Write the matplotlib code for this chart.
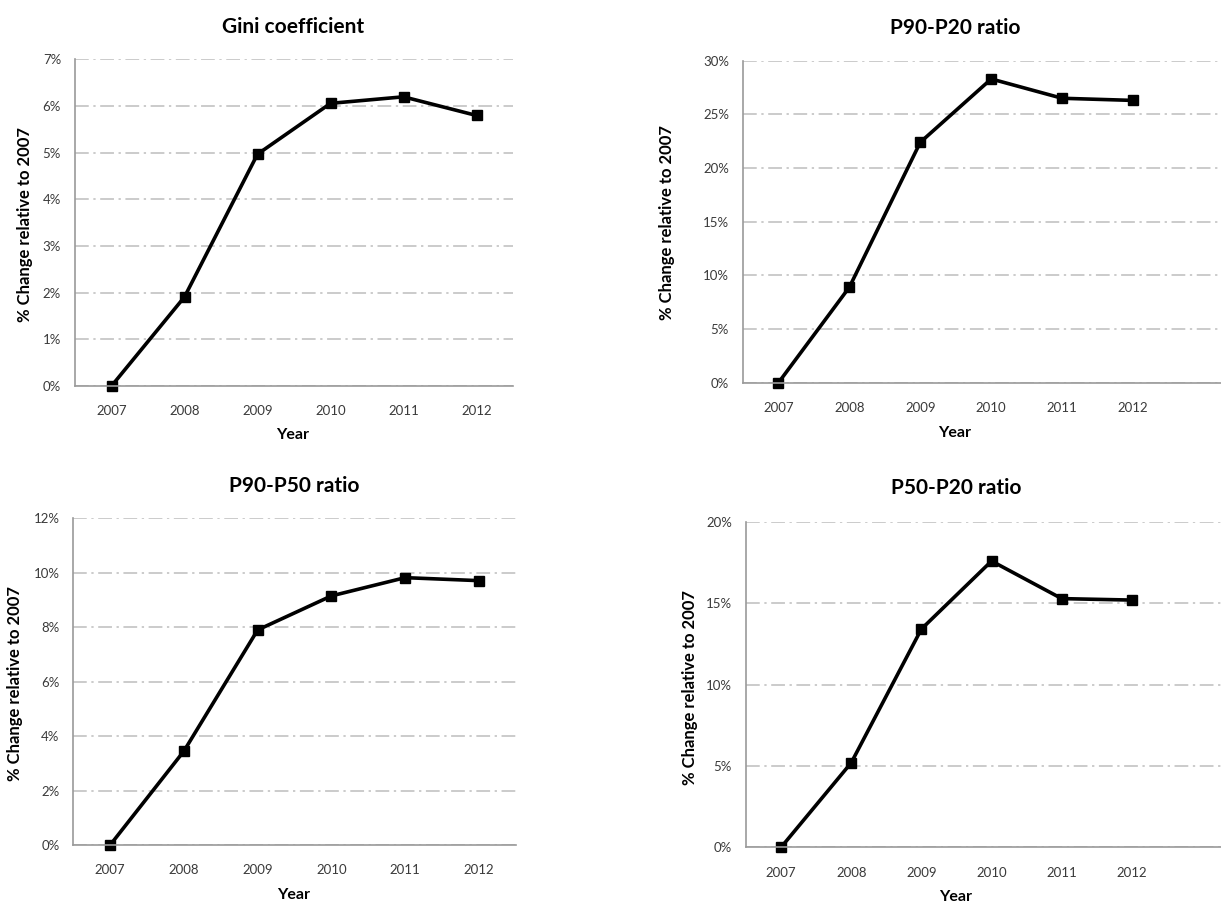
import numpy as np
import matplotlib
matplotlib.use("Agg")
from matplotlib import pyplot as plt
from matplotlib.ticker import FuncFormatter

years = [2007, 2008, 2009, 2010, 2011, 2012]

gini = [0.0, 1.91, 4.97, 6.06, 6.20, 5.80]
p90_p20 = [0.0, 8.9, 22.4, 28.3, 26.5, 26.3]
p90_p50 = [0.0, 3.45, 7.90, 9.15, 9.82, 9.71]
p50_p20 = [0.0, 5.2, 13.42, 17.6, 15.29, 15.2]

titles = ["Gini coefficient", "P90-P20 ratio", "P90-P50 ratio", "P50-P20 ratio"]
series = [gini, p90_p20, p90_p50, p50_p20]
y_max = [7, 30, 12, 20]
y_step = [1, 5, 2, 5]

plt.rcParams['font.family'] = ['Lato', 'DejaVu Sans']

W, H = 1221, 905
fig = plt.figure(figsize=(W / 100, H / 100), dpi=100)

# pixel boxes: left, right, top, bottom, xlim right, title y, xlabel y, ylabel x, ylabel y, title x
boxes = [
    (75, 513, 59.5, 386, 2012.5, 27, 435, 25, 224, 293),
    (743, 1221, 60.7, 382.7, 2013.24, 28, 433, 667, 223, 955),
    (73.3, 515.8, 518.3, 845, 2012.5, 486, 895, 15, 683, 294),
    (746, 1221, 522, 847.3, 2013.27, 488, 897, 690, 687, 956),
]


def pct(v, pos):
    return "%d%%" % round(v)


for i in range(4):
    l, r, t, b, xr, ty, xly, ylx, yly, tx = boxes[i]
    ax = fig.add_axes([l / W, 1 - b / H, (r - l) / W, (b - t) / H])
    ax.plot(years, series[i], color="black", lw=2.6, marker="s", ms=6.5,
            markerfacecolor="black", zorder=3, clip_on=False)
    ax.set_xlim(2006.5, xr)
    ax.set_ylim(0, y_max[i])
    ax.set_xticks(years)
    ax.set_yticks(np.arange(0, y_max[i] + 0.01, y_step[i]))
    ax.yaxis.set_major_formatter(FuncFormatter(pct))
    ax.tick_params(length=0, labelsize=9.5, colors="#3a3a3a", pad=10)
    ax.tick_params(axis="x", pad=14)
    ax.grid(axis="y", color="#bdbdbd", lw=1.1, linestyle=(0, (9, 3, 1.5, 3)))
    ax.set_axisbelow(True)
    for s in ["top", "right"]:
        ax.spines[s].set_visible(False)
    for s in ["left", "bottom"]:
        ax.spines[s].set_color("#9a9a9a")
        ax.spines[s].set_linewidth(1.2)
    ax.spines["bottom"].set_zorder(4)

    fig.text(tx / W, 1 - ty / H, titles[i], ha="center", va="center",
             fontsize=15, fontweight="bold")
    fig.text(tx / W, 1 - xly / H, "Year", ha="center", va="center",
             fontsize=11.5, fontweight="bold")
    fig.text(ylx / W, 1 - yly / H, "% Change relative to 2007", ha="center",
             va="center", rotation=90, fontsize=12, fontweight="bold")

fig.savefig("out.png", dpi=100)
